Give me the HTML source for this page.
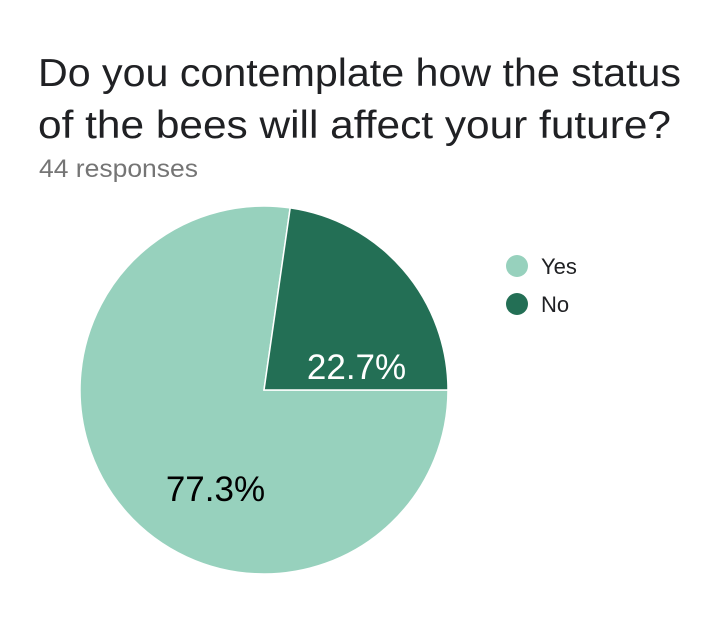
<!DOCTYPE html>
<html><head><meta charset="utf-8"><style>
body{margin:0;background:#fff;width:720px;height:618px;overflow:hidden;font-family:"Liberation Sans",sans-serif}
</style></head><body>
<svg width="720" height="618">
<text x="38" y="86" font-size="39" textLength="643" lengthAdjust="spacingAndGlyphs" fill="#202124">Do you contemplate how the status</text>
<text x="38" y="138" font-size="39" textLength="633" lengthAdjust="spacingAndGlyphs" fill="#202124">of the bees will affect your future?</text>
<text x="39" y="177" font-size="25" textLength="159" lengthAdjust="spacingAndGlyphs" fill="#757575">44 responses</text>
<g id="pie"></g>
<g>
<circle cx="517" cy="266" r="11" fill="#97d1bd"/>
<text x="541" y="274" font-size="22" fill="#202124">Yes</text>
<circle cx="517" cy="304" r="11" fill="#236f55"/>
<text x="541" y="312" font-size="22" fill="#202124">No</text>
</g>
</svg>
<script>
const categories=["Yes","No"];
const values=[34,10];
const colors=["#97d1bd","#236f55"];
const labelColors=["#000","#fff"];
const cx=264,cy=390,r=184;
const nudgeX=[21,23],nudgeY=[39,37];
const total=values.reduce((a,b)=>a+b,0);
const g=document.getElementById('pie');
const ns="http://www.w3.org/2000/svg";
let a=Math.PI/2;
function pt(ang,rr){return [cx+rr*Math.sin(ang),cy-rr*Math.cos(ang)];}
values.forEach((v,i)=>{
  const sw=v/total*2*Math.PI;
  const [x1,y1]=pt(a,r),[x2,y2]=pt(a+sw,r);
  const p=document.createElementNS(ns,'path');
  p.setAttribute('d',`M${cx},${cy}L${x1},${y1}A${r},${r} 0 ${sw>Math.PI?1:0} 1 ${x2},${y2}Z`);
  p.setAttribute('fill',colors[i]);
  p.setAttribute('stroke','#fff');
  p.setAttribute('stroke-width','1.5');
  
  
  g.appendChild(p);
  const mid=a+sw/2;
  const [lx,ly]=pt(mid,r*0.5);
  const t=document.createElementNS(ns,'text');
  t.setAttribute('x',lx+nudgeX[i]);t.setAttribute('y',ly+nudgeY[i]+12);
  t.setAttribute('text-anchor','middle');
  t.setAttribute('font-size','35');
  t.setAttribute('fill',labelColors[i]);
  t.textContent=(v/total*100).toFixed(1)+'%';
  
  
  g.appendChild(t);
  a+=sw;
});
</script>
</body></html>
